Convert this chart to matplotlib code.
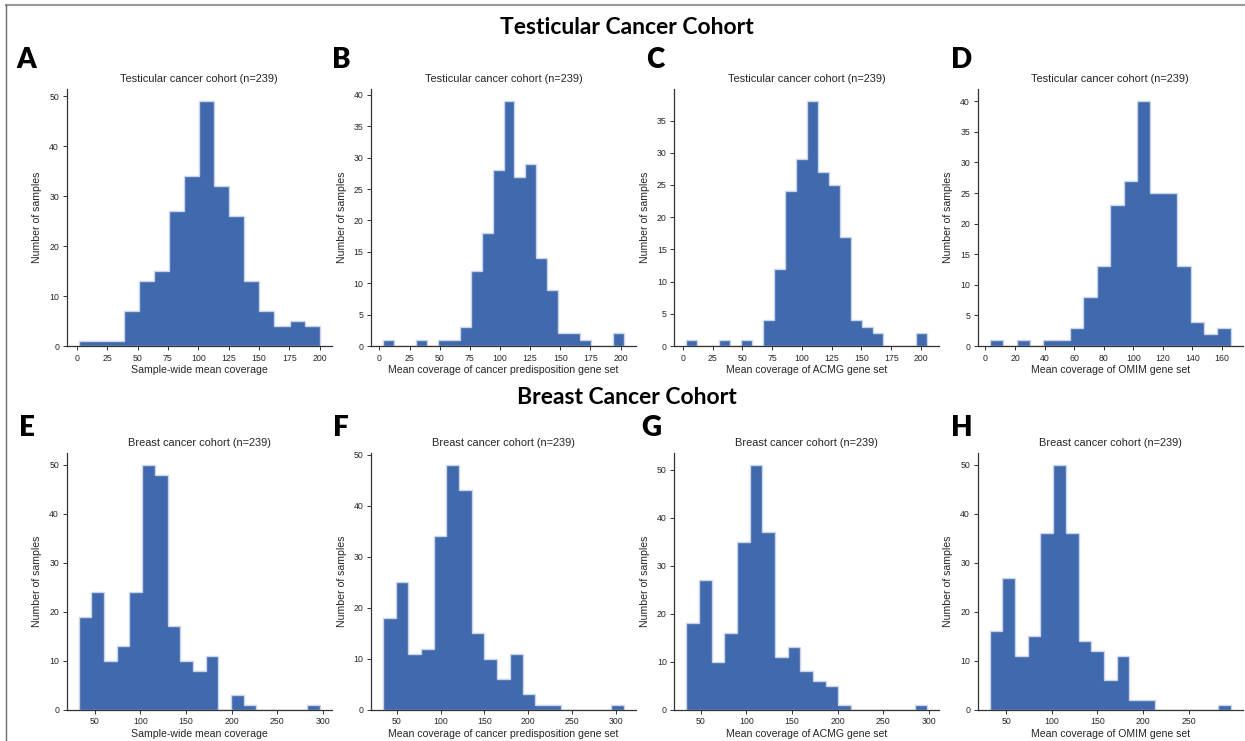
import numpy as np
import matplotlib
matplotlib.use("Agg")
import matplotlib.pyplot as plt
from matplotlib.lines import Line2D

# ---------------- data ----------------
panel_letters = ["A", "B", "C", "D", "E", "F", "G", "H"]
row_titles = ["Testicular Cancer Cohort", "Breast Cancer Cohort"]
subplot_titles = ["Testicular cancer cohort (n=239)"] * 4 + ["Breast cancer cohort (n=239)"] * 4
xlabels = ["Sample-wide mean coverage",
           "Mean coverage of cancer predisposition gene set",
           "Mean coverage of ACMG gene set",
           "Mean coverage of OMIM gene set"] * 2
ylabel = "Number of samples"

# histogram counts per bin and the range covered by the bins
counts_A = [1, 1, 1, 7, 13, 15, 27, 34, 49, 32, 26, 13, 7, 4, 5, 4]
range_A = (1.6, 200.0)
counts_B = [1, 0, 0, 1, 0, 1, 1, 3, 12, 18, 28, 39, 27, 29, 14, 9, 2, 2, 1, 0, 0, 2]
range_B = (3.0, 202.8)
counts_C = [1, 0, 0, 1, 0, 1, 0, 4, 12, 24, 29, 38, 27, 25, 17, 4, 3, 2, 0, 0, 0, 2]
range_C = (2.8, 205.3)
counts_D = [1, 0, 1, 0, 1, 1, 3, 8, 13, 23, 27, 40, 25, 25, 13, 4, 2, 3]
range_D = (2.9, 165.8)
counts_E = [19, 24, 10, 13, 24, 50, 48, 17, 10, 8, 11, 0, 3, 1, 0, 0, 0, 0, 1]
range_E = (32.5, 296.6)
counts_F = [18, 25, 11, 12, 34, 48, 43, 15, 10, 6, 11, 3, 1, 1, 0, 0, 0, 0, 1]
range_F = (34.4, 309.2)
counts_G = [18, 27, 10, 16, 35, 51, 37, 11, 13, 8, 6, 5, 1, 0, 0, 0, 0, 0, 1]
range_G = (34.2, 298.2)
counts_H = [16, 27, 11, 15, 36, 50, 36, 14, 12, 6, 11, 2, 2, 0, 0, 0, 0, 0, 1]
range_H = (32.1, 296.2)

xticks_A = [0, 25, 50, 75, 100, 125, 150, 175, 200]
xticks_B = [0, 25, 50, 75, 100, 125, 150, 175, 200]
xticks_C = [0, 25, 50, 75, 100, 125, 150, 175, 200]
xticks_D = [0, 20, 40, 60, 80, 100, 120, 140, 160]
xticks_E = [50, 100, 150, 200, 250, 300]
xticks_F = [50, 100, 150, 200, 250, 300]
xticks_G = [50, 100, 150, 200, 250, 300]
xticks_H = [50, 100, 150, 200, 250]

yticks_A = [0, 10, 20, 30, 40, 50]
yticks_B = [0, 5, 10, 15, 20, 25, 30, 35, 40]
yticks_C = [0, 5, 10, 15, 20, 25, 30, 35]
yticks_D = [0, 5, 10, 15, 20, 25, 30, 35, 40]
yticks_E = [0, 10, 20, 30, 40, 50]
yticks_F = [0, 10, 20, 30, 40, 50]
yticks_G = [0, 10, 20, 30, 40, 50]
yticks_H = [0, 10, 20, 30, 40, 50]

all_counts = [counts_A, counts_B, counts_C, counts_D, counts_E, counts_F, counts_G, counts_H]
all_ranges = [range_A, range_B, range_C, range_D, range_E, range_F, range_G, range_H]
all_xticks = [xticks_A, xticks_B, xticks_C, xticks_D, xticks_E, xticks_F, xticks_G, xticks_H]
all_yticks = [yticks_A, yticks_B, yticks_C, yticks_D, yticks_E, yticks_F, yticks_G, yticks_H]

# ---------------- styling ----------------
W, H = 1245, 741
fig = plt.figure(figsize=(W / 100, H / 100), dpi=100)
fig.patch.set_facecolor("white")

bar_color = "#4169ad"
edge_color = "#c9d5ea"
spine_color = "#333333"
text_color = "#262626"
axfont = ["Liberation Sans", "DejaVu Sans"]
headfont = ["Lato", "DejaVu Sans"]

lefts = [66.7, 371.0, 674.3, 977.7]
ax_w = 265.0
ax_h = 257.0
tops = [89.0, 452.7]

for i in range(8):
    r, c = divmod(i, 4)
    left = lefts[c] / W
    bottom = 1 - (tops[r] + ax_h) / H
    ax = fig.add_axes([left, bottom, ax_w / W, ax_h / H])
    counts = np.array(all_counts[i], dtype=float)
    lo, hi = all_ranges[i]
    edges = np.linspace(lo, hi, len(counts) + 1)
    ax.hist(edges[:-1], bins=edges, weights=counts, histtype="stepfilled",
            facecolor=bar_color, edgecolor=edge_color, linewidth=1.0)
    ax.set_xticks(all_xticks[i])
    ax.set_yticks(all_yticks[i])
    ax.set_title(subplot_titles[i], fontsize=7.9, family=axfont, color=text_color, pad=5)
    ax.set_xlabel(xlabels[i], fontsize=7.6, family=axfont, color=text_color, labelpad=2)
    ax.set_ylabel(ylabel, fontsize=7.6, family=axfont, color=text_color, labelpad=5)
    for s in ["top", "right"]:
        ax.spines[s].set_visible(False)
    for s in ["left", "bottom"]:
        ax.spines[s].set_color(spine_color)
        ax.spines[s].set_linewidth(0.9)
        ax.spines[s].set_zorder(3)
    ax.tick_params(axis="both", labelsize=6.3, colors=spine_color, length=3,
                   width=0.7, pad=2.5, labelcolor=text_color)
    for lab in ax.get_xticklabels() + ax.get_yticklabels():
        lab.set_family(axfont)
    ax.set_facecolor("white")

# panel letters
letter_pos = [(26, 60), (341, 60), (655, 60), (962, 60),
              (27, 428), (341, 428), (651, 428), (962, 428)]
for L, (x, y) in zip(panel_letters, letter_pos):
    fig.text(x / W, 1 - y / H, L, fontsize=20, fontweight="heavy", family=headfont,
             ha="center", va="center", color="black")

# row headers
fig.text(627 / W, 1 - 28 / H, row_titles[0], fontsize=16.5, fontweight="bold",
         family=headfont, ha="center", va="center", color="black")
fig.text(627 / W, 1 - 398 / H, row_titles[1], fontsize=16.5, fontweight="bold",
         family=headfont, ha="center", va="center", color="black")

# frame lines (top and left)
fig.add_artist(Line2D([6 / W, 1], [1 - 4.5 / H, 1 - 4.5 / H], transform=fig.transFigure,
                      color="#9a9a9a", linewidth=1.5))
fig.add_artist(Line2D([6 / W, 6 / W], [0, 1 - 4.5 / H], transform=fig.transFigure,
                      color="#6a6a6a", linewidth=1.0))

fig.savefig("out.png", dpi=100, facecolor="white")
